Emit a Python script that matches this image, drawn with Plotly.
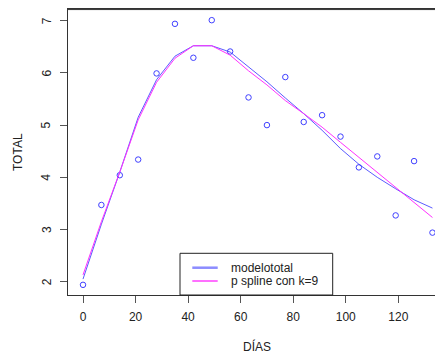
import plotly.graph_objects as go

dias = [0, 7, 14, 21, 28, 35, 42, 49, 56, 63, 70, 77, 84, 91, 98, 105, 112, 119, 126, 133]
total = [1.94, 3.47, 4.04, 4.34, 5.99, 6.94, 6.29, 7.01, 6.41, 5.53, 5.00, 5.92, 5.06, 5.19, 4.78, 4.19, 4.40, 3.27, 4.31, 2.94]
modelototal = [2.05, 3.10, 4.10, 5.15, 5.87, 6.32, 6.52, 6.52, 6.40, 6.12, 5.83, 5.52, 5.22, 4.90, 4.55, 4.25, 4.00, 3.78, 3.57, 3.41]
pspline = [2.13, 3.15, 4.10, 5.10, 5.82, 6.28, 6.52, 6.52, 6.34, 6.04, 5.77, 5.47, 5.22, 4.96, 4.67, 4.38, 4.09, 3.81, 3.51, 3.23]
x_ticks = [0, 20, 40, 60, 80, 100, 120]
y_ticks = [2, 3, 4, 5, 6, 7]
legend_labels = ["modelototal", "p spline con k=9"]

W, H = 435, 354
L, T, R, B = 68, 9, 0, 59
pw, ph = W - L - R, H - T - B

def px(xp):
    return (xp - L) / pw

def py(yp):
    return (H - B - yp) / ph

font = dict(family="Liberation Sans, Arial, sans-serif", size=12, color="#222")

fig = go.Figure()
fig.add_trace(go.Scatter(x=dias, y=total, mode="markers",
                         marker=dict(symbol="circle-open", size=5.5, color="#4040ff", line=dict(width=1)),
                         cliponaxis=False, showlegend=False))
fig.add_trace(go.Scatter(x=dias, y=modelototal, mode="lines",
                         line=dict(color="rgba(50,50,255,0.8)", width=1), showlegend=False))
fig.add_trace(go.Scatter(x=dias, y=pspline, mode="lines",
                         line=dict(color="#ff30ff", width=1), showlegend=False))

shapes = [
    dict(type="line", xref="paper", yref="paper", x0=0, x1=1, y0=0.998, y1=0.998,
         line=dict(color="#333", width=1)),
    dict(type="rect", xref="paper", yref="paper", x0=px(180), x1=px(332.7), y0=0, y1=py(253.3),
         line=dict(color="#222", width=1), fillcolor="white"),
    dict(type="line", xref="paper", yref="paper", x0=px(192.3), x1=px(217.7), y0=py(267.7), y1=py(267.7),
         line=dict(color="#8c8cff", width=2.5)),
    dict(type="line", xref="paper", yref="paper", x0=px(192.3), x1=px(217.7), y0=py(281), y1=py(281),
         line=dict(color="#ff40ff", width=1.5)),
]
annotations = [
    dict(text=legend_labels[0], xref="paper", yref="paper", x=px(229), y=py(267.7),
         xanchor="left", yanchor="middle", showarrow=False, font=font),
    dict(text=legend_labels[1], xref="paper", yref="paper", x=px(229), y=py(281),
         xanchor="left", yanchor="middle", showarrow=False, font=font),
    dict(text="TOTAL", xref="paper", yref="paper", x=px(18), y=py(152), textangle=-90,
         xanchor="center", yanchor="middle", showarrow=False, font=font),
    dict(text="DÍAS", xref="paper", yref="paper", x=px(256.7), y=py(346.7),
         xanchor="center", yanchor="middle", showarrow=False, font=font),
]
for v in y_ticks:
    annotations.append(dict(text=str(v), xref="paper", yref="y", x=px(46.5), y=v, textangle=-90,
                            xanchor="center", yanchor="middle", showarrow=False, font=font))

x0px, xscale = 83.0, 2.6275
y2px, yscale = 281.7, 52.2
xr = [(L - x0px) / xscale, (W - x0px) / xscale]
yr = [2 - (H - B - y2px) / yscale, 2 + (y2px - T) / yscale]

fig.update_layout(
    width=W, height=H, margin=dict(l=L, r=R, t=T, b=B),
    paper_bgcolor="white", plot_bgcolor="white", font=font,
    shapes=shapes, annotations=annotations, showlegend=False,
    xaxis=dict(range=xr, tickvals=x_ticks, ticks="outside", ticklen=7, tickcolor="#555",
               showline=True, mirror=True, linecolor="#333", linewidth=1,
               showgrid=False, zeroline=False, tickfont=font, ticklabelstandoff=4),
    yaxis=dict(range=yr, tickvals=y_ticks, ticks="outside", ticklen=7, tickcolor="#555",
               showline=True, mirror=False, linecolor="#333", linewidth=1,
               showgrid=False, zeroline=False, showticklabels=False),
)

fig.write_html("out.html")
